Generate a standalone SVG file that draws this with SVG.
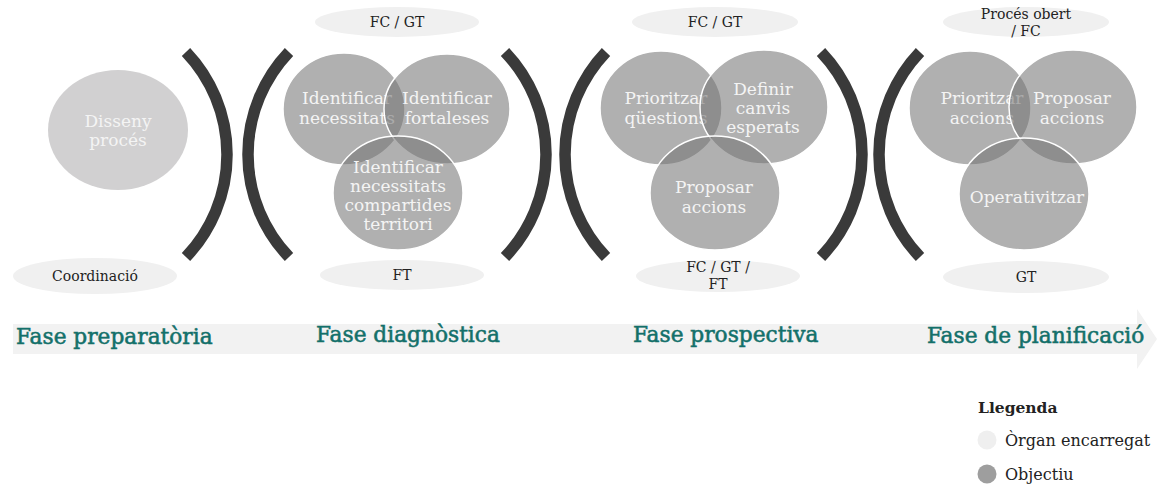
<svg xmlns="http://www.w3.org/2000/svg" width="1164" height="484" viewBox="0 0 1164 484">
<style>
text{font-family:"DejaVu Serif","Liberation Serif",serif;}
.lbl{fill:#f0f0f0;}
.lt{font-size:14px;fill:#222;text-anchor:middle;}
.obj{fill:#747474;fill-opacity:0.57;stroke:#fff;stroke-width:1.5;}
.ot{font-size:17px;fill:#f4f4f4;text-anchor:middle;}
.br{fill:none;stroke:#3a3a3a;stroke-width:11.5;stroke-linecap:butt;}
.ph{font-size:21.7px;fill:#13706a;stroke:#13706a;stroke-width:0.55;}
.lg{font-size:16px;fill:#222;}
</style>
<g id="arrow">
<path d="M13 324 H1137 V309 L1157 339 L1137 369 V354 H13 Z" fill="#f2f2f2"/>
</g>
<g id="connectors">
<path class="br" d="M186 52 A148.6 148.6 0 0 1 186 257"/>
<path class="br" d="M289 52 A148.6 148.6 0 0 0 289 257"/>
<path class="br" d="M505 52 A148.6 148.6 0 0 1 505 257"/>
<path class="br" d="M606 52 A148.6 148.6 0 0 0 606 257"/>
<path class="br" d="M821 52 A148.6 148.6 0 0 1 821 257"/>
<path class="br" d="M920 52 A148.6 148.6 0 0 0 920 257"/>
</g>
<g id="prep">
<ellipse cx="118" cy="130" rx="70" ry="60" fill="#d1d0d1"/>
<text class="ot" x="118" y="127">Disseny</text>
<text class="ot" x="118" y="146">procés</text>
<ellipse class="lbl" cx="95" cy="276" rx="82" ry="18"/>
<text class="lt" x="95" y="281">Coordinació</text>
</g>
<g id="diag">
<ellipse class="lbl" cx="397" cy="22" rx="82" ry="15"/>
<text class="lt" x="397" y="27">FC / GT</text>
<ellipse class="obj" cx="344" cy="109" rx="61" ry="56"/>
<text class="ot" x="347" y="104">Identificar</text>
<text class="ot" x="347" y="124">necessitats</text>
<ellipse class="obj" cx="447" cy="109" rx="63" ry="55"/>
<text class="ot" x="447" y="104">Identificar</text>
<text class="ot" x="447" y="124">fortaleses</text>
<ellipse class="obj" cx="398" cy="193" rx="65" ry="57"/>
<text class="ot" x="398" y="173">Identificar</text>
<text class="ot" x="398" y="192">necessitats</text>
<text class="ot" x="398" y="211">compartides</text>
<text class="ot" x="398" y="230">territori</text>
<ellipse class="lbl" cx="402" cy="275" rx="82" ry="15"/>
<text class="lt" x="402" y="280">FT</text>
</g>
<g id="prosp">
<ellipse class="lbl" cx="715" cy="22" rx="83" ry="15"/>
<text class="lt" x="715" y="27">FC / GT</text>
<ellipse class="obj" cx="661" cy="108" rx="61" ry="57"/>
<text class="ot" x="666" y="104">Prioritzar</text>
<text class="ot" x="666" y="124">qüestions</text>
<ellipse class="obj" cx="764" cy="107" rx="64" ry="57"/>
<text class="ot" x="763" y="95">Definir</text>
<text class="ot" x="763" y="114">canvis</text>
<text class="ot" x="763" y="133">esperats</text>
<ellipse class="obj" cx="715" cy="193" rx="65" ry="57"/>
<text class="ot" x="714" y="193">Proposar</text>
<text class="ot" x="714" y="213">accions</text>
<ellipse class="lbl" cx="718" cy="276" rx="82" ry="16"/>
<text class="lt" x="718" y="272">FC / GT /</text>
<text class="lt" x="718" y="289">FT</text>
</g>
<g id="plan">
<ellipse class="lbl" cx="1026" cy="22" rx="83" ry="15"/>
<text class="lt" x="1026" y="19">Procés obert</text>
<text class="lt" x="1026" y="36">/ FC</text>
<ellipse class="obj" cx="970" cy="108" rx="61" ry="57"/>
<text class="ot" x="982" y="104">Prioritzar</text>
<text class="ot" x="982" y="124">accions</text>
<ellipse class="obj" cx="1073" cy="107" rx="64" ry="57"/>
<text class="ot" x="1072" y="104">Proposar</text>
<text class="ot" x="1072" y="124">accions</text>
<ellipse class="obj" cx="1024" cy="194" rx="65" ry="56"/>
<text class="ot" x="1027" y="203">Operativitzar</text>
<ellipse class="lbl" cx="1026" cy="277" rx="83" ry="16"/>
<text class="lt" x="1026" y="282">GT</text>
</g>
<g id="phases">
<text class="ph" x="16" y="344">Fase preparatòria</text>
<text class="ph" x="316" y="342">Fase diagnòstica</text>
<text class="ph" x="633" y="342">Fase prospectiva</text>
<text class="ph" x="927" y="343">Fase de planificació</text>
</g>
<g id="legend">
<text x="978" y="413" style="font-size:15.5px;font-weight:bold;fill:#222">Llegenda</text>
<circle cx="987" cy="440" r="9.5" fill="#efefef"/>
<text class="lg" x="1005" y="446">Òrgan encarregat</text>
<circle cx="987" cy="474" r="9.5" fill="#9e9e9e"/>
<text class="lg" x="1005" y="480">Objectiu</text>
</g>
</svg>
